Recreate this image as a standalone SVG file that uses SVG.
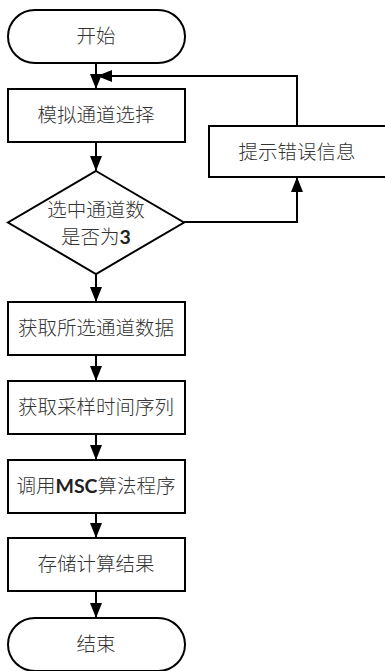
<svg xmlns="http://www.w3.org/2000/svg" width="385" height="671" viewBox="0 0 385 671">
  <defs>
    <marker id="arrow" viewBox="0 0 15 12" refX="15" refY="6" markerWidth="15" markerHeight="12" markerUnits="userSpaceOnUse" orient="auto">
      <path d="M0,0 L15,6 L0,12 Z" fill="#000"/>
    </marker>
    <style>
      .shape { fill: #fff; stroke: #000; stroke-width: 2; }
      .edge { fill: none; stroke: #000; stroke-width: 2; marker-end: url(#arrow); }
      .label { font-family: "Noto Sans CJK SC", "Noto Sans", sans-serif; font-size: 19.5px; font-weight: 300; fill: #333; text-anchor: middle; }
      .latin { font-family: Lato, "Open Sans", sans-serif; font-weight: bold; fill: #222; }
    </style>
  </defs>

  <rect width="385" height="671" fill="#fff"/>

  <g id="connectors">
    <path class="edge" d="M96,63 V89"/>
    <path class="edge" d="M96,142 V171"/>
    <path class="edge" d="M96,274 V302"/>
    <path class="edge" d="M96,355 V381"/>
    <path class="edge" d="M96,434 V460"/>
    <path class="edge" d="M96,513 V538"/>
    <path class="edge" d="M96,591 V618"/>
    <path class="edge" d="M184,222 H297 V177"/>
    <path class="edge" d="M297,126 V76 H97"/>
  </g>

  <g id="start">
    <rect class="shape" x="8" y="10" width="177" height="53" rx="27" ry="26.5"/>
    <text class="label" x="96" y="43">开始</text>
  </g>

  <g id="select-channel">
    <rect class="shape" x="8" y="89" width="177" height="53"/>
    <text class="label" x="96" y="122">模拟通道选择</text>
  </g>

  <g id="error-message">
    <rect class="shape" x="209" y="126" width="190" height="51"/>
    <text class="label" x="297" y="159">提示错误信息</text>
  </g>

  <g id="check-count">
    <polygon class="shape" points="96,171 184,222.5 96,274 8,222.5"/>
    <text class="label" x="96" y="217">选中通道数</text>
    <text class="label" x="96" y="244">是否为<tspan class="latin">3</tspan></text>
  </g>

  <g id="read-data">
    <rect class="shape" x="8" y="302" width="177" height="53"/>
    <text class="label" x="96" y="335">获取所选通道数据</text>
  </g>

  <g id="read-time">
    <rect class="shape" x="8" y="381" width="177" height="53"/>
    <text class="label" x="96" y="414">获取采样时间序列</text>
  </g>

  <g id="run-msc">
    <rect class="shape" x="8" y="460" width="177" height="53"/>
    <text class="label" x="96" y="493">调用<tspan class="latin">MSC</tspan>算法程序</text>
  </g>

  <g id="store-result">
    <rect class="shape" x="8" y="538" width="177" height="53"/>
    <text class="label" x="96" y="571">存储计算结果</text>
  </g>

  <g id="end">
    <rect class="shape" x="8" y="618" width="177" height="53" rx="27" ry="26.5"/>
    <text class="label" x="96" y="651">结束</text>
  </g>
</svg>
